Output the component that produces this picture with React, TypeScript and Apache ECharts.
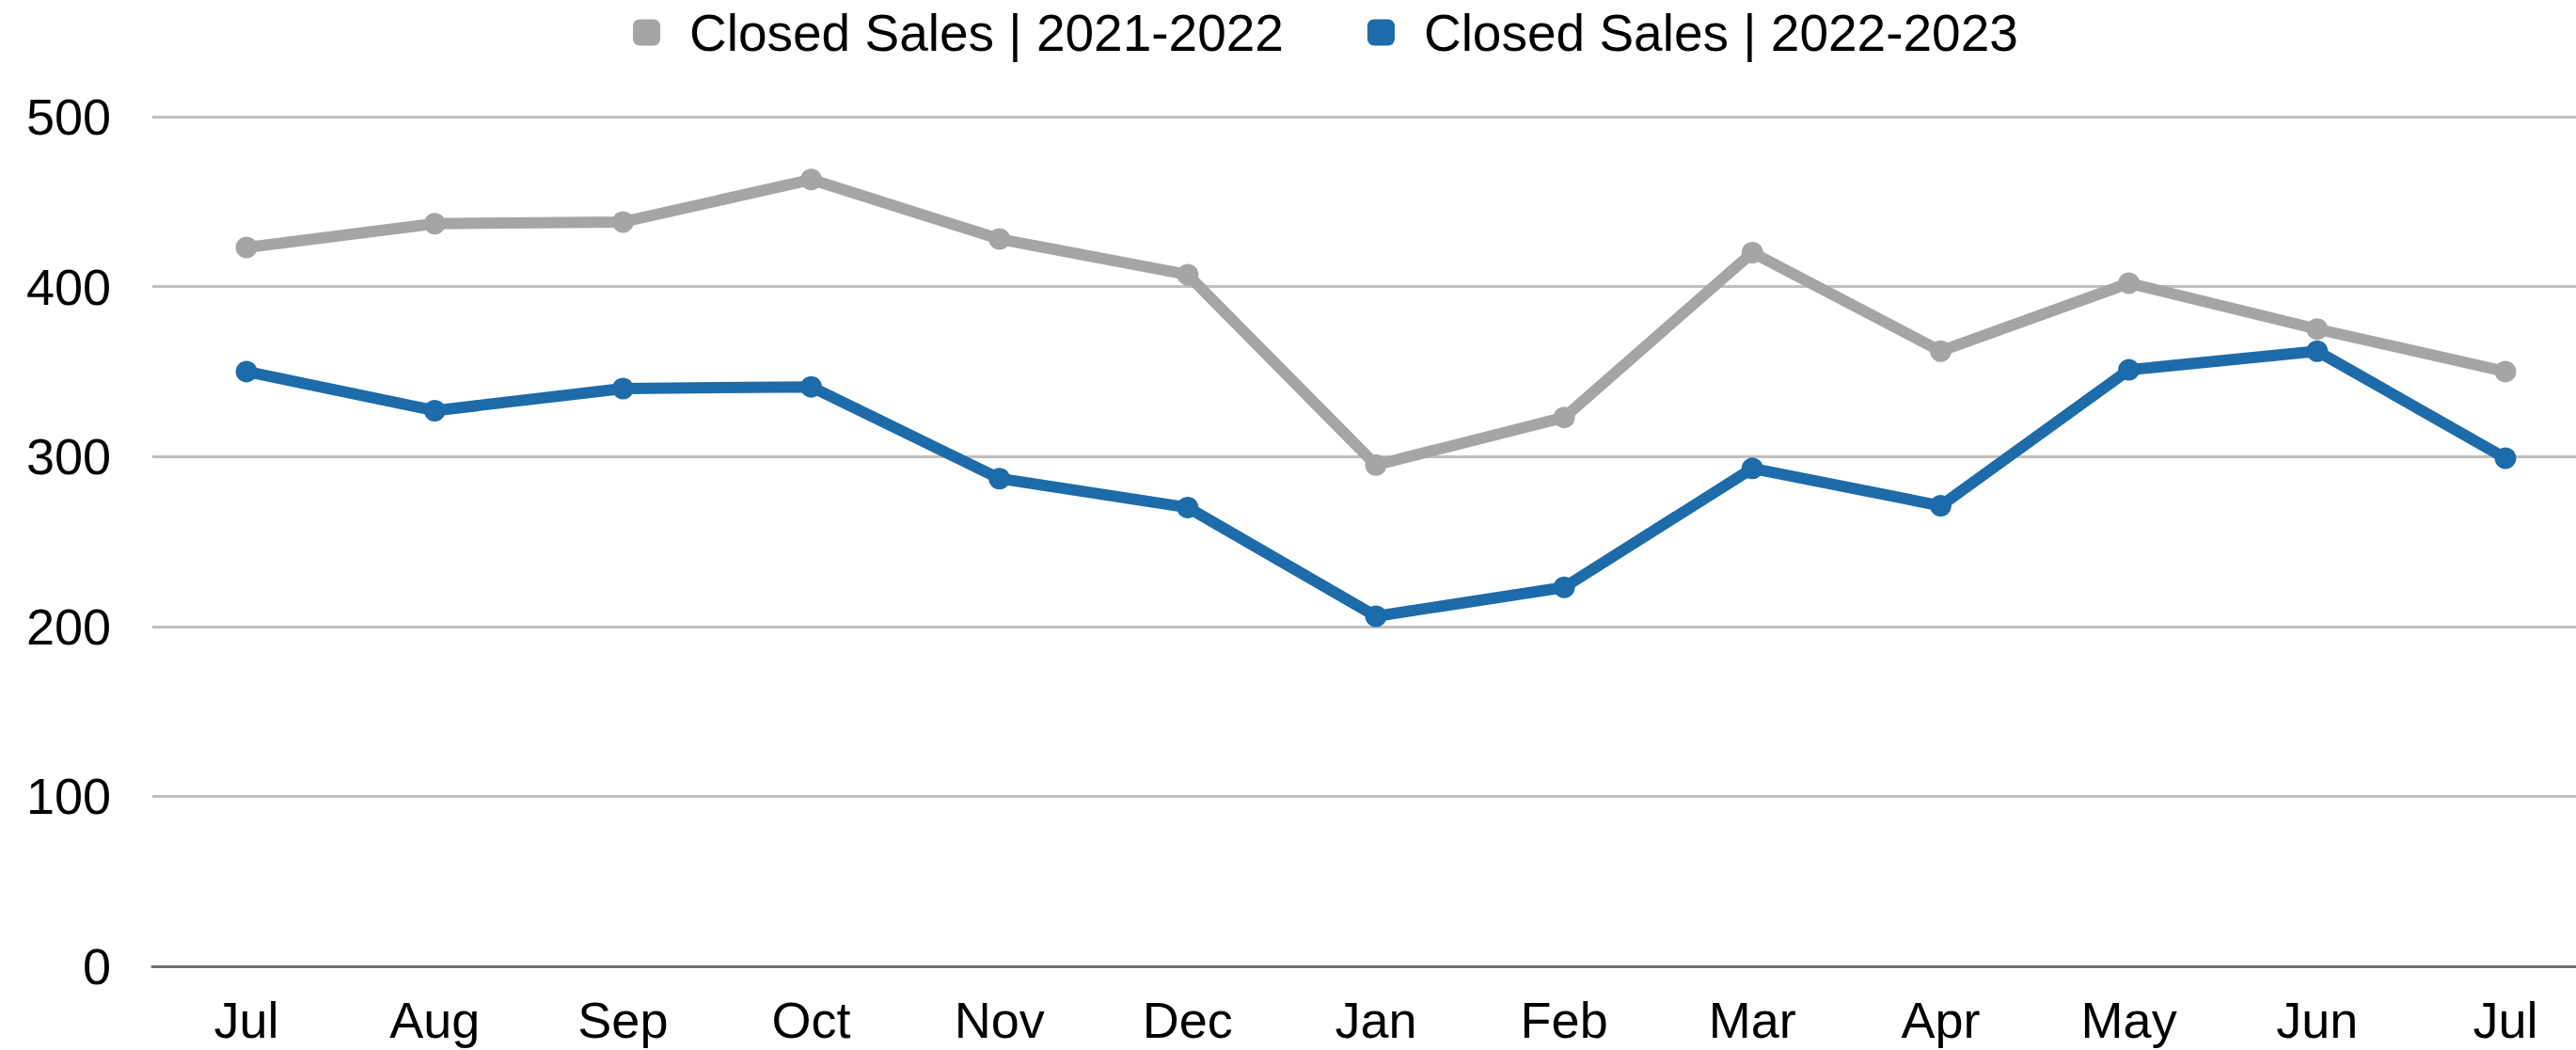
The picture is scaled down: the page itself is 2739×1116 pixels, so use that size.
import React, { useEffect, useRef } from "react";
import * as echarts from "echarts";

const categories = ["Jul", "Aug", "Sep", "Oct", "Nov", "Dec", "Jan", "Feb", "Mar", "Apr", "May", "Jun", "Jul"];
const seriesNames = ["Closed Sales | 2021-2022", "Closed Sales | 2022-2023"];
const sales2021_2022 = [423, 437, 438, 463, 428, 407, 295, 323, 420, 362, 402, 375, 350];
const sales2022_2023 = [350, 327, 340, 341, 287, 270, 206, 223, 293, 271, 351, 362, 299];
const colors = ["#A5A5A5", "#1D6BA8"];

export default function App() {
  const ref = useRef<HTMLDivElement>(null);
  useEffect(() => {
    document.body.style.margin = "0";
    document.body.style.overflow = "hidden";
    document.documentElement.style.overflow = "hidden";
    const chart = echarts.init(ref.current!, null, { renderer: "svg" });
    const font = "Liberation Sans";
    const mkSeries = (name: string, data: number[], color: string) => ({
      name,
      type: "line",
      data,
      symbol: "circle",
      symbolSize: 23,
      showSymbol: true,
      lineStyle: { color, width: 12 },
      itemStyle: { color },
    });
    chart.setOption({
      animation: false,
      color: colors,
      legend: {
        left: 668,
        top: 2,
        itemWidth: 29,
        itemHeight: 28,
        itemGap: 89,
        icon: "roundRect",
        textStyle: { fontFamily: font, fontSize: 55, color: "#000", padding: [0, 0, 0, 26] },
        data: seriesNames,
      },
      grid: { left: 162, right: 0, top: 124, bottom: 89, containLabel: false },
      xAxis: {
        type: "category",
        data: categories,
        boundaryGap: true,
        axisTick: { show: false },
        axisLine: { lineStyle: { color: "#707070", width: 3 } },
        axisLabel: { fontFamily: font, fontSize: 54, color: "#000", margin: 30 },
      },
      yAxis: {
        type: "value",
        min: 0,
        max: 500,
        interval: 100,
        axisLine: { show: false },
        axisTick: { show: false },
        axisLabel: { fontFamily: font, fontSize: 54, color: "#000", margin: 44 },
        splitLine: { lineStyle: { color: "#BFBFBF", width: 3 } },
      },
      series: [
        mkSeries(seriesNames[0], sales2021_2022, colors[0]),
        mkSeries(seriesNames[1], sales2022_2023, colors[1]),
      ],
    });
    return () => chart.dispose();
  }, []);
  return (
    <div style={{ width: 2739, height: 1116, overflow: "hidden", position: "relative" }}>
      <div ref={ref} style={{ width: 2764, height: 1116, position: "absolute", left: 0, top: 0 }} />
    </div>
  );
}
